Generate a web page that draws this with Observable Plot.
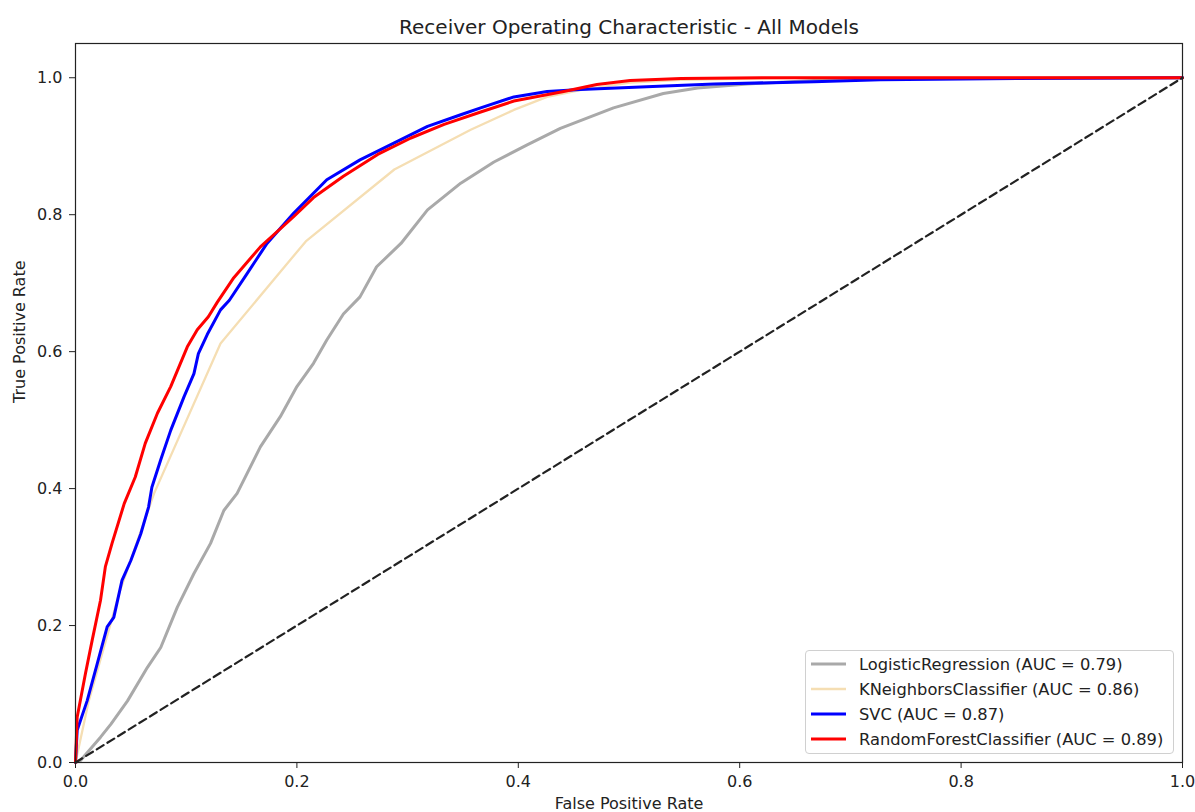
<!DOCTYPE html>
<html>
<head>
<meta charset="utf-8">
<script src="https://cdn.jsdelivr.net/npm/d3@7"></script>
<script src="https://cdn.jsdelivr.net/npm/@observablehq/plot@0.6"></script>
<style>
  body { margin: 0; background: #fff; font-family: "DejaVu Sans", sans-serif; }
  #wrap { position: relative; width: 1195px; height: 812px; }
  #legend { position: absolute; left: 805px; top: 650px; width: 367px; height: 102px;
    border: 1px solid #d0d0d0; border-radius: 4px; background: rgba(255,255,255,0.85); }
  .row { position: absolute; left: 0; height: 20px; display: flex; align-items: center; }
  .row svg { margin-left: 5px; }
  .row span { margin-left: 13px; font-size: 16.3px; color: #222; white-space: nowrap; }
</style>
</head>
<body>
<div id="wrap"></div>
<script>
// ---- data ----
const models = ["LogisticRegression", "KNeighborsClassifier", "SVC", "RandomForestClassifier"];
const aucs = [0.79, 0.86, 0.87, 0.89];
const colors = ["#a9a9a9", "#f5deb3", "#0000ff", "#ff0000"];

const lrFpr = [0, .0045, .0226, .032, .047, .065, .077, .092, .107, .122, .134, .146, .167, .185, .2, .215, .227, .242, .257, .272, .294, .318, .348, .378, .408, .438, .486, .531, .562, .607, .667, .75, 1];
const lrTpr = [0, .003, .037, .056, .09, .139, .168, .227, .276, .32, .368, .393, .461, .505, .549, .583, .617, .655, .68, .724, .758, .807, .846, .877, .902, .926, .956, .977, .985, .991, .996, .999, 1];

const knnFpr = [0, .012, .04, .071, .131, .208, .288, .357, .396, .426, .456, .501, .547, .65, 1];
const knnTpr = [0, .09, .25, .393, .612, .761, .866, .924, .953, .972, .982, .993, .997, 1, 1];

const svcFpr = [0, .0015, .0105, .0196, .0286, .0346, .042, .05, .059, .066, .069, .077, .086, .098, .107, .111, .119, .131, .139, .155, .173, .197, .227, .257, .288, .318, .348, .366, .396, .426, .456, .516, .577, .667, .727, .85, 1];
const svcTpr = [0, .047, .09, .144, .198, .212, .266, .295, .334, .373, .402, .442, .485, .534, .568, .597, .625, .661, .675, .714, .758, .802, .851, .880, .905, .929, .946, .956, .972, .980, .983, .987, .991, .994, .997, .999, 1];

const rfFpr = [0, .0015, .009, .015, .0226, .027, .033, .044, .054, .063, .074, .086, .101, .11, .12, .128, .143, .167, .197, .215, .242, .273, .303, .333, .366, .396, .441, .471, .501, .547, .62, 1];
const rfTpr = [0, .066, .13, .178, .237, .286, .32, .378, .417, .466, .51, .549, .607, .632, .651, .672, .708, .753, .797, .825, .856, .888, .912, .932, .950, .966, .980, .99, .996, .999, 1, 1];

const diagX = [0, 1];
const diagY = [0, 1];

const xTicks = [0, 0.2, 0.4, 0.6, 0.8, 1.0];
const yTicks = [0, 0.2, 0.4, 0.6, 0.8, 1.0];

const series = [
  {fpr: lrFpr, tpr: lrTpr},
  {fpr: knnFpr, tpr: knnTpr},
  {fpr: svcFpr, tpr: svcTpr},
  {fpr: rfFpr, tpr: rfTpr}
];
const widths = [3, 2.3, 3, 3];

const fmt = d3.format(".1f");
const marks = [];
series.forEach((s, i) => {
  const rows = s.fpr.map((f, j) => ({x: f, y: s.tpr[j]}));
  marks.push(Plot.line(rows, {x: "x", y: "y", stroke: colors[i], strokeWidth: widths[i], curve: "linear"}));
});
marks.push(Plot.line(diagX.map((v, j) => ({x: v, y: diagY[j]})), {x: "x", y: "y", stroke: "#222", strokeWidth: 2.2, strokeDasharray: "8,4.5"}));
marks.push(Plot.frame({stroke: "#222", strokeWidth: 1.2}));
marks.push(Plot.axisX({ticks: xTicks, tickFormat: fmt, tickSize: 6, tickPadding: 7, fontSize: 16, label: null, color: "#222"}));
marks.push(Plot.axisY({ticks: yTicks, tickFormat: fmt, tickSize: 6, tickPadding: 7, fontSize: 16, label: null, color: "#222"}));
marks.push(Plot.text(["Receiver Operating Characteristic - All Models"], {frameAnchor: "top", dy: -24, fontSize: 20, fill: "#222"}));
marks.push(Plot.text(["False Positive Rate"], {frameAnchor: "bottom", dy: 46, fontSize: 16, fill: "#222"}));
marks.push(Plot.text(["True Positive Rate"], {frameAnchor: "left", dx: -56, rotate: -90, fontSize: 16, fill: "#222"}));

const chart = Plot.plot({
  width: 1195,
  height: 812,
  marginTop: 43,
  marginBottom: 50,
  marginLeft: 75,
  marginRight: 13,
  style: {fontFamily: "DejaVu Sans, sans-serif", background: "#fff"},
  x: {domain: [0, 1]},
  y: {domain: [0, 1.05]},
  marks
});
const wrap = document.getElementById("wrap");
wrap.appendChild(chart);

// legend
const legend = document.createElement("div");
legend.id = "legend";
models.forEach((m, i) => {
  const row = document.createElement("div");
  row.className = "row";
  row.style.top = (3 + i * 25) + "px";
  row.innerHTML = `<svg width="35" height="6"><line x1="0" x2="35" y1="3" y2="3" stroke="${colors[i]}" stroke-width="${widths[i]}"/></svg><span>${m} (AUC = ${aucs[i].toFixed(2)})</span>`;
  legend.appendChild(row);
});
wrap.appendChild(legend);
</script>
</body>
</html>
